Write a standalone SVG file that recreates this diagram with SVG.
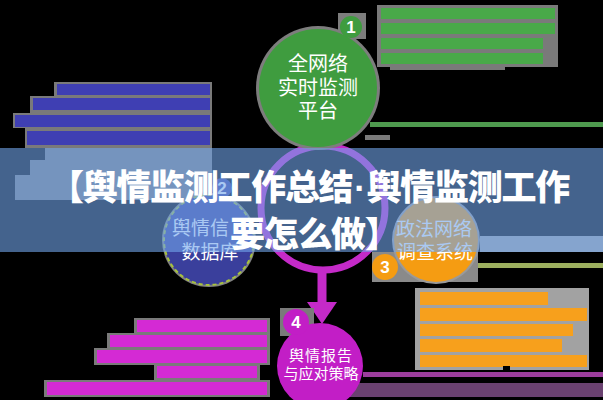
<svg xmlns="http://www.w3.org/2000/svg" width="603" height="400" viewBox="0 0 603 400">
<defs>
<style>
.lbl{font-family:"Noto Sans CJK SC","Noto Sans",sans-serif;fill:#ffffff;}
.badge{font-family:"Liberation Sans","Noto Sans",sans-serif;font-weight:bold;fill:#ffffff;font-size:17px;text-anchor:middle;}
.title{font-family:"Noto Sans CJK SC","Noto Sans",sans-serif;font-weight:900;fill:#ffffff;font-size:35px;letter-spacing:-1.3px;}
.dot{font-family:"Liberation Sans","DejaVu Sans",sans-serif;font-weight:bold;}
.gbg{fill:#7a7a7a;}
.gbgl{fill:#a2a2a2;}
.tg{fill:#49a949;}
.tb{fill:#3f3fb3;}
.to{fill:#f7a01c;}
.tm{fill:#d42ad4;}
.ring{fill:none;stroke:#c42ac8;stroke-width:7;}
.stem{fill:none;stroke:#c42ac8;stroke-width:9;}
</style>
<marker id="ah" markerUnits="userSpaceOnUse" viewBox="0 0 22 30" markerWidth="22" markerHeight="30" refX="0" refY="15" orient="auto">
<path d="M0,0 L22,15 L0,30 Z" fill="#c42ac8"/>
</marker>
</defs>
<rect x="0" y="0" width="603" height="400" fill="#000000"/>

<g id="text-blocks">
<rect class="gbg" x="377" y="5" width="181" height="62"/>
<rect class="gbg" x="390" y="64" width="115" height="6"/>
<rect class="tg" x="381" y="8" width="174" height="11"/>
<rect class="tg" x="381" y="23" width="174" height="11"/>
<rect class="tg" x="381" y="38" width="162" height="11"/>
<rect class="tg" x="381" y="53" width="162" height="11"/>
<rect fill="#4f9a4f" x="370" y="122" width="233" height="5"/>
<rect class="gbg" x="365" y="135" width="25" height="5"/>
<polygon class="gbg" points="54,82 212,82 212,200 15,200 15,175 30,175 30,160 45,160 45,148 25,148 25,128 13,128 13,113 30,113 30,96 54,96"/>
<rect class="tb" x="57" y="84" width="153" height="11"/>
<rect class="tb" x="33" y="98" width="177" height="12"/>
<rect class="tb" x="15" y="115" width="195" height="12"/>
<rect class="tb" x="27" y="131" width="183" height="14"/>
<rect class="gbgl" x="415" y="288" width="174" height="82"/>
<rect class="to" x="420" y="292" width="128" height="13"/>
<rect class="to" x="420" y="308" width="167" height="13"/>
<rect class="to" x="420" y="324" width="153" height="12"/>
<rect class="to" x="420" y="339" width="142" height="13"/>
<rect class="to" x="420" y="355" width="167" height="12"/>
<rect fill="#000000" x="503" y="366" width="7" height="6"/>
<rect class="gbgl" x="480" y="236" width="123" height="16"/>
<rect fill="#9caf5e" x="478" y="263" width="125" height="5"/>
<rect class="gbg" x="134" y="318" width="136" height="16"/>
<rect class="gbg" x="107" y="333" width="163" height="16"/>
<rect class="gbg" x="94" y="348" width="176" height="17"/>
<rect class="gbg" x="154" y="364" width="106" height="16"/>
<rect class="gbg" x="44" y="380" width="226" height="17"/>
<rect class="tm" x="137" y="320" width="130" height="12"/>
<rect class="tm" x="110" y="335" width="157" height="12"/>
<rect class="tm" x="97" y="350" width="170" height="13"/>
<rect class="tm" x="157" y="366" width="100" height="12"/>
<rect class="tm" x="47" y="382" width="220" height="13"/>
<rect fill="#9c3d9c" x="363" y="372" width="240" height="5"/>
<rect fill="#6a4170" x="350" y="383" width="253" height="14"/>
</g>

<g id="connectors">
<circle class="ring" cx="323" cy="208" r="62"/>
<path class="stem" d="M322,268 L322,302" marker-end="url(#ah)"/>
</g>

<g id="node-1">
<circle cx="318" cy="88" r="62" fill="#7d7d7d"/>
<rect x="338" y="13" width="28" height="26" fill="#7d7d7d"/>
<circle cx="318" cy="88" r="59" fill="#3f9c3f"/>
<circle cx="351" cy="27" r="11" fill="#3f9c3f"/>
<text class="badge" x="351" y="33">1</text>
<text class="lbl" font-size="20" text-anchor="middle" x="318" y="71">全网络</text>
<text class="lbl" font-size="20" text-anchor="middle" x="318" y="95">实时监测</text>
<text class="lbl" font-size="20" text-anchor="middle" x="318" y="118">平台</text>
</g>

<g id="node-2">
<circle cx="209" cy="240" r="47" fill="#808080"/>
<circle cx="209" cy="240" r="45" fill="#3a3f9c" stroke="#a7c23c" stroke-width="2" stroke-dasharray="4 3"/>
<circle cx="222" cy="188" r="10" fill="#3a3f9c"/>
<text class="badge" x="222" y="194">2</text>
<text class="lbl" font-size="19" x="172" y="235">舆情信</text>
<text class="lbl" font-size="19" text-anchor="middle" x="210" y="259">数据库</text>
</g>

<g id="node-3">
<rect x="372" y="252" width="106" height="30" fill="#8a8a8a"/>
<circle cx="436" cy="240" r="44" fill="#9a9a9a"/>
<circle cx="436" cy="240" r="42" fill="#f59c12"/>
<circle cx="385" cy="267" r="13" fill="#f59c12"/>
<text class="badge" x="385" y="273">3</text>
<text class="lbl" font-size="19" text-anchor="middle" x="434" y="236">政法网络</text>
<text class="lbl" font-size="19" text-anchor="middle" x="435" y="259">调查系统</text>
</g>

<g id="node-4">
<rect x="280" y="308" width="34" height="28" fill="#7a7a7a"/>
<circle cx="320" cy="366" r="43" fill="#c21ec6"/>
<circle cx="296" cy="322" r="13" fill="#c21ec6"/>
<text class="badge" x="296" y="328">4</text>
<text class="lbl" font-size="15" text-anchor="middle" x="321" y="361" letter-spacing="1">舆情报告</text>
<text class="lbl" font-size="15" text-anchor="middle" x="321" y="379">与应对策略</text>
</g>

<g id="banner">
<rect x="0" y="148" width="603" height="104" fill="#71a5eb" opacity="0.6"/>
<text class="title" x="49" y="200">【舆情监测工作总结<tspan class="dot" dx="2">·</tspan><tspan dx="2">舆情监测工作</tspan></text>
<text class="title" x="230" y="247">要怎么做】</text>
</g>
</svg>
